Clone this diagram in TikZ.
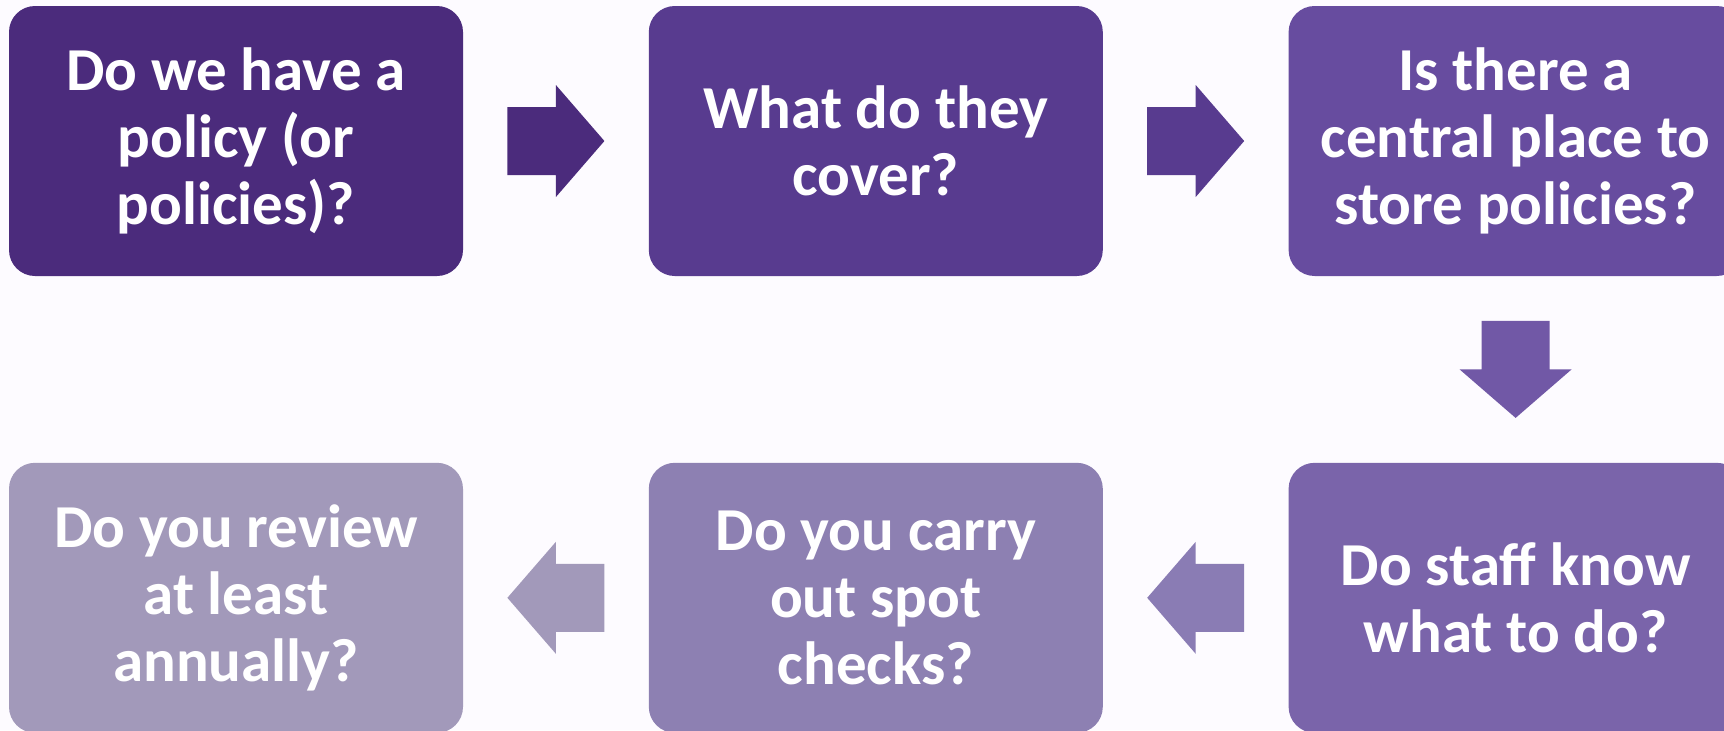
\documentclass[tikz,border=0pt]{standalone}
\usepackage{fontspec}
\setmainfont{Carlito}
\usetikzlibrary{positioning,calc}

\definecolor{pagebg}{RGB}{253,251,255}
\definecolor{stepone}{RGB}{75,43,124}
\definecolor{steptwo}{RGB}{88,59,143}
\definecolor{stepthree}{RGB}{103,76,159}
\definecolor{stepfour}{RGB}{122,100,170}
\definecolor{stepfive}{RGB}{141,128,178}
\definecolor{stepsix}{RGB}{162,153,186}
\definecolor{arrowdown}{RGB}{113,88,166}
\definecolor{arrowleft}{RGB}{138,124,180}

\tikzset{
  question/.style={rectangle,rounded corners=13pt,minimum width=227pt,minimum height=135pt,
    inner sep=0pt,align=center,text=white,font=\bfseries\fontsize{30.5}{33.5}\selectfont},
  pics/blockarrow/.style={code={
    \fill[#1] (-48.5,34) -- (0,34) -- (0,56) -- (48.5,0) -- (0,-56) -- (0,-34) -- (-48.5,-34) -- cycle;
  }}
}

\begin{document}
\begin{tikzpicture}[x=0.5pt,y=-0.5pt]
  \clip (0,0) rectangle (1724,730);
  \fill[pagebg] (0,0) rectangle (1724,730);

  % top row
  \node[question,fill=stepone] (policy) at (236,141) {Do we have a\\policy (or\\policies)?};
  \node[question,fill=steptwo,right=92.5pt of policy] (cover) {What do they\\cover?};
  \node[question,fill=stepthree,right=92.5pt of cover] (store) {Is there a\\central place to\\store policies?};

  % bottom row
  \node[question,fill=stepfour,below=93pt of store] (staff) {Do staff know\\what to do?};
  \node[question,fill=stepfive,left=92.5pt of staff] (spot) {Do you carry\\out spot\\checks?};
  \node[question,fill=stepsix,left=92.5pt of spot] (review) {Do you review\\at least\\annually?};

  % block arrows
  \pic at ($(policy.east)!0.5!(cover.west)$) {blockarrow=stepone};
  \pic at ($(cover.east)!0.5!(store.west)$) {blockarrow=steptwo};
  \pic[rotate=-90] at ($(store.south)!0.5!(staff.north)$) {blockarrow=arrowdown};
  \pic[rotate=180] at ($(staff.west)!0.5!(spot.east)$) {blockarrow=arrowleft};
  \pic[rotate=180] at ($(spot.west)!0.5!(review.east)$) {blockarrow=stepsix};
\end{tikzpicture}
\end{document}
